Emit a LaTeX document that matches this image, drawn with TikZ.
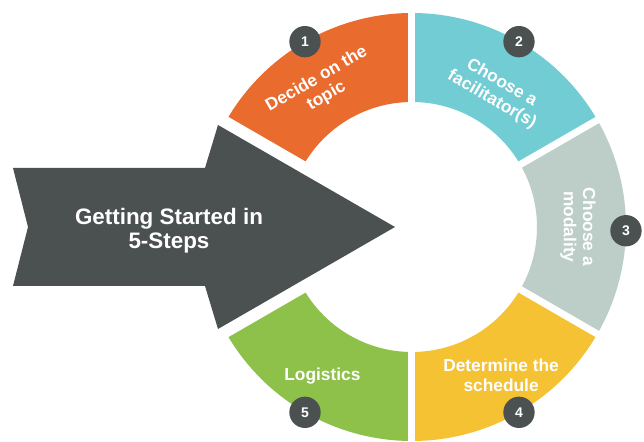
\documentclass[tikz,border=0pt]{standalone}
\usepackage{fontspec}
\setmainfont{Liberation Sans}
\usepackage{tikz}
\definecolor{stepDark}{HTML}{4B5050}
\definecolor{stepOrange}{HTML}{E96B2E}
\definecolor{stepCyan}{HTML}{72CCD3}
\definecolor{stepGray}{HTML}{BDCEC9}
\definecolor{stepYellow}{HTML}{F4C233}
\definecolor{stepGreen}{HTML}{8DC14A}

\begin{document}
\begin{tikzpicture}[x=0.75pt, y=0.75pt,
      every node/.append style={text=white, align=center, inner sep=0pt},
      label/.style={font=\bfseries\fontsize{13}{14.6}\selectfont},
      title/.style={font=\bfseries\fontsize{16.8}{17.8}\selectfont},
      gap/.style={white, line width=5.25pt}]
    \tikzstyle{num} = [circle, fill=stepDark, minimum size=23.5pt, font=\bfseries\fontsize{10.5}{12}\selectfont]
    \useasboundingbox[fill=white] (-412,-215) rectangle (232,227);
    \fill[stepDark] (-399,59) -- (-207,59) -- (-194,102) -- (-17,0) -- (-194,-102)
      -- (-207,-59) -- (-399,-59) -- (-384,0) -- cycle;
    \foreach \a/\c in {90/stepOrange, 30/stepCyan, -30/stepGray, -90/stepYellow, -150/stepGreen}
      \fill[\c] (\a:125) -- (\a:214) arc[start angle=\a, delta angle=60, radius=214]
        -- ({\a+60}:125) arc[start angle={\a+60}, delta angle=-60, radius=125] -- cycle;
    \foreach \a in {30,90,150,210,270,330}
      \draw[gap] (\a:115) -- (\a:225);
    \node (title) [title] at (-243,-4) {Getting Started in\\5-Steps};
    \node (topic) [label, rotate=30] at (123:166) {Decide on the\\topic};
    \node (facilitator) [label, rotate=-30] at (58:160) {Choose a\\facilitator(s)};
    \node (modality) [label, rotate=-90] at (0:166) {Choose a\\modality};
    \node (schedule) [label] at (-59:173) {Determine the\\schedule};
    \node (logistics) [label] at (-121:174) {Logistics};
    \node (n1) [num] at (120:214) {1};
    \node (n2) [num] at (60:214) {2};
    \node (n3) [num] at (-1:214) {3};
    \node (n4) [num] at (-60:214) {4};
    \node (n5) [num] at (-120:214) {5};
\end{tikzpicture}
\end{document}
